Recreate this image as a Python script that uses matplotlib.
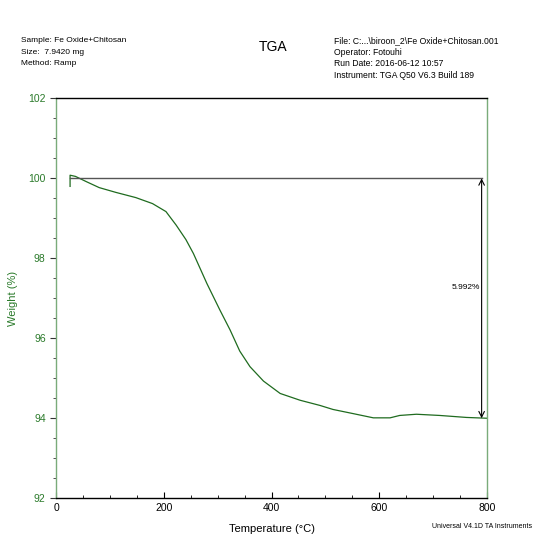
import matplotlib
matplotlib.use("Agg")
import matplotlib.pyplot as plt
from matplotlib.ticker import MultipleLocator

plt.rcParams['font.family'] = ['Liberation Sans', 'DejaVu Sans']

# ---- TGA data ----
temp = [26, 26, 36, 56, 80, 111, 148, 179, 204, 223, 241, 255, 280, 304, 323, 341, 360,
        385, 416, 453, 490, 514, 550, 589, 620, 638, 669, 712, 762, 800]
weight = [99.8, 100.08, 100.05, 99.92, 99.77, 99.65, 99.52, 99.37, 99.17, 98.83, 98.47,
          98.12, 97.37, 96.71, 96.21, 95.68, 95.29, 94.93, 94.62, 94.45, 94.32, 94.22,
          94.12, 94.01, 94.01, 94.07, 94.1, 94.07, 94.02, 94.0]
step_top, step_bot, step_x = 100.0, 94.0, 790
step_label = "5.992%"

header_left = ["Sample: Fe Oxide+Chitosan", "Size:  7.9420 mg", "Method: Ramp"]
header_right = ["File: C:...\\biroon_2\\Fe Oxide+Chitosan.001", "Operator: Fotouhi",
                "Run Date: 2016-06-12 10:57", "Instrument: TGA Q50 V6.3 Build 189"]

GREEN = "#2a7a2a"
SPINE_GREEN = "#7aab7a"

fig = plt.figure(figsize=(5.34, 5.38), dpi=100)
ax = fig.add_axes([0.105, 0.074, 0.807, 0.743])

ax.plot(temp, weight, color="#1f6b1f", lw=0.9)
ax.plot([temp[0], step_x], [step_top, step_top], color="#555555", lw=1.0)
ax.annotate("", xy=(step_x, step_bot), xytext=(step_x, step_top),
            arrowprops=dict(arrowstyle="<->", color="black", lw=0.8, shrinkA=0, shrinkB=0))
ax.text(step_x - 3, (step_top + step_bot) / 2 + 0.27, step_label, ha="right", va="center",
        fontsize=6)

ax.set_xlim(0, 800)
ax.set_ylim(92, 102)
ax.xaxis.set_major_locator(MultipleLocator(200))
ax.xaxis.set_minor_locator(MultipleLocator(50))
ax.yaxis.set_major_locator(MultipleLocator(2))
ax.yaxis.set_minor_locator(MultipleLocator(0.5))
ax.tick_params(axis="x", which="both", direction="in", top=False, labelsize=7.5)
ax.tick_params(axis="x", which="major", length=4)
ax.tick_params(axis="x", which="minor", length=2.5)
ax.tick_params(axis="y", which="both", direction="out", right=False,
               labelsize=7.5, labelcolor=GREEN, color="#333333")
ax.tick_params(axis="y", which="major", length=4)
ax.tick_params(axis="y", which="minor", length=2)

ax.spines["left"].set_color(SPINE_GREEN)
ax.spines["right"].set_color(SPINE_GREEN)
ax.spines["top"].set_color("black")
ax.spines["bottom"].set_color("black")
for s in ax.spines.values():
    s.set_linewidth(1.0)

ax.set_xlabel("Temperature (°C)", fontsize=8)
ax.xaxis.set_label_coords(0.5, -0.065)
ax.set_ylabel("Weight (%)", fontsize=8, color=GREEN)
ax.yaxis.set_label_coords(-0.088, 0.5)

# header text
for i, t in enumerate(header_left):
    fig.text(21 / 534, 1 - (41 + i * 11.5) / 538, t, fontsize=6, va="center")
for i, t in enumerate(header_right):
    fig.text(334 / 534, 1 - (41 + i * 11.5) / 538, t, fontsize=6.2, va="center")
fig.text(273 / 534, 1 - 47 / 538, "TGA", fontsize=10, ha="center", va="center")
fig.text(532 / 534, 1 - 527 / 538, "Universal V4.1D TA Instruments", fontsize=5,
         ha="right", va="center")

fig.savefig("out.png", dpi=100)
